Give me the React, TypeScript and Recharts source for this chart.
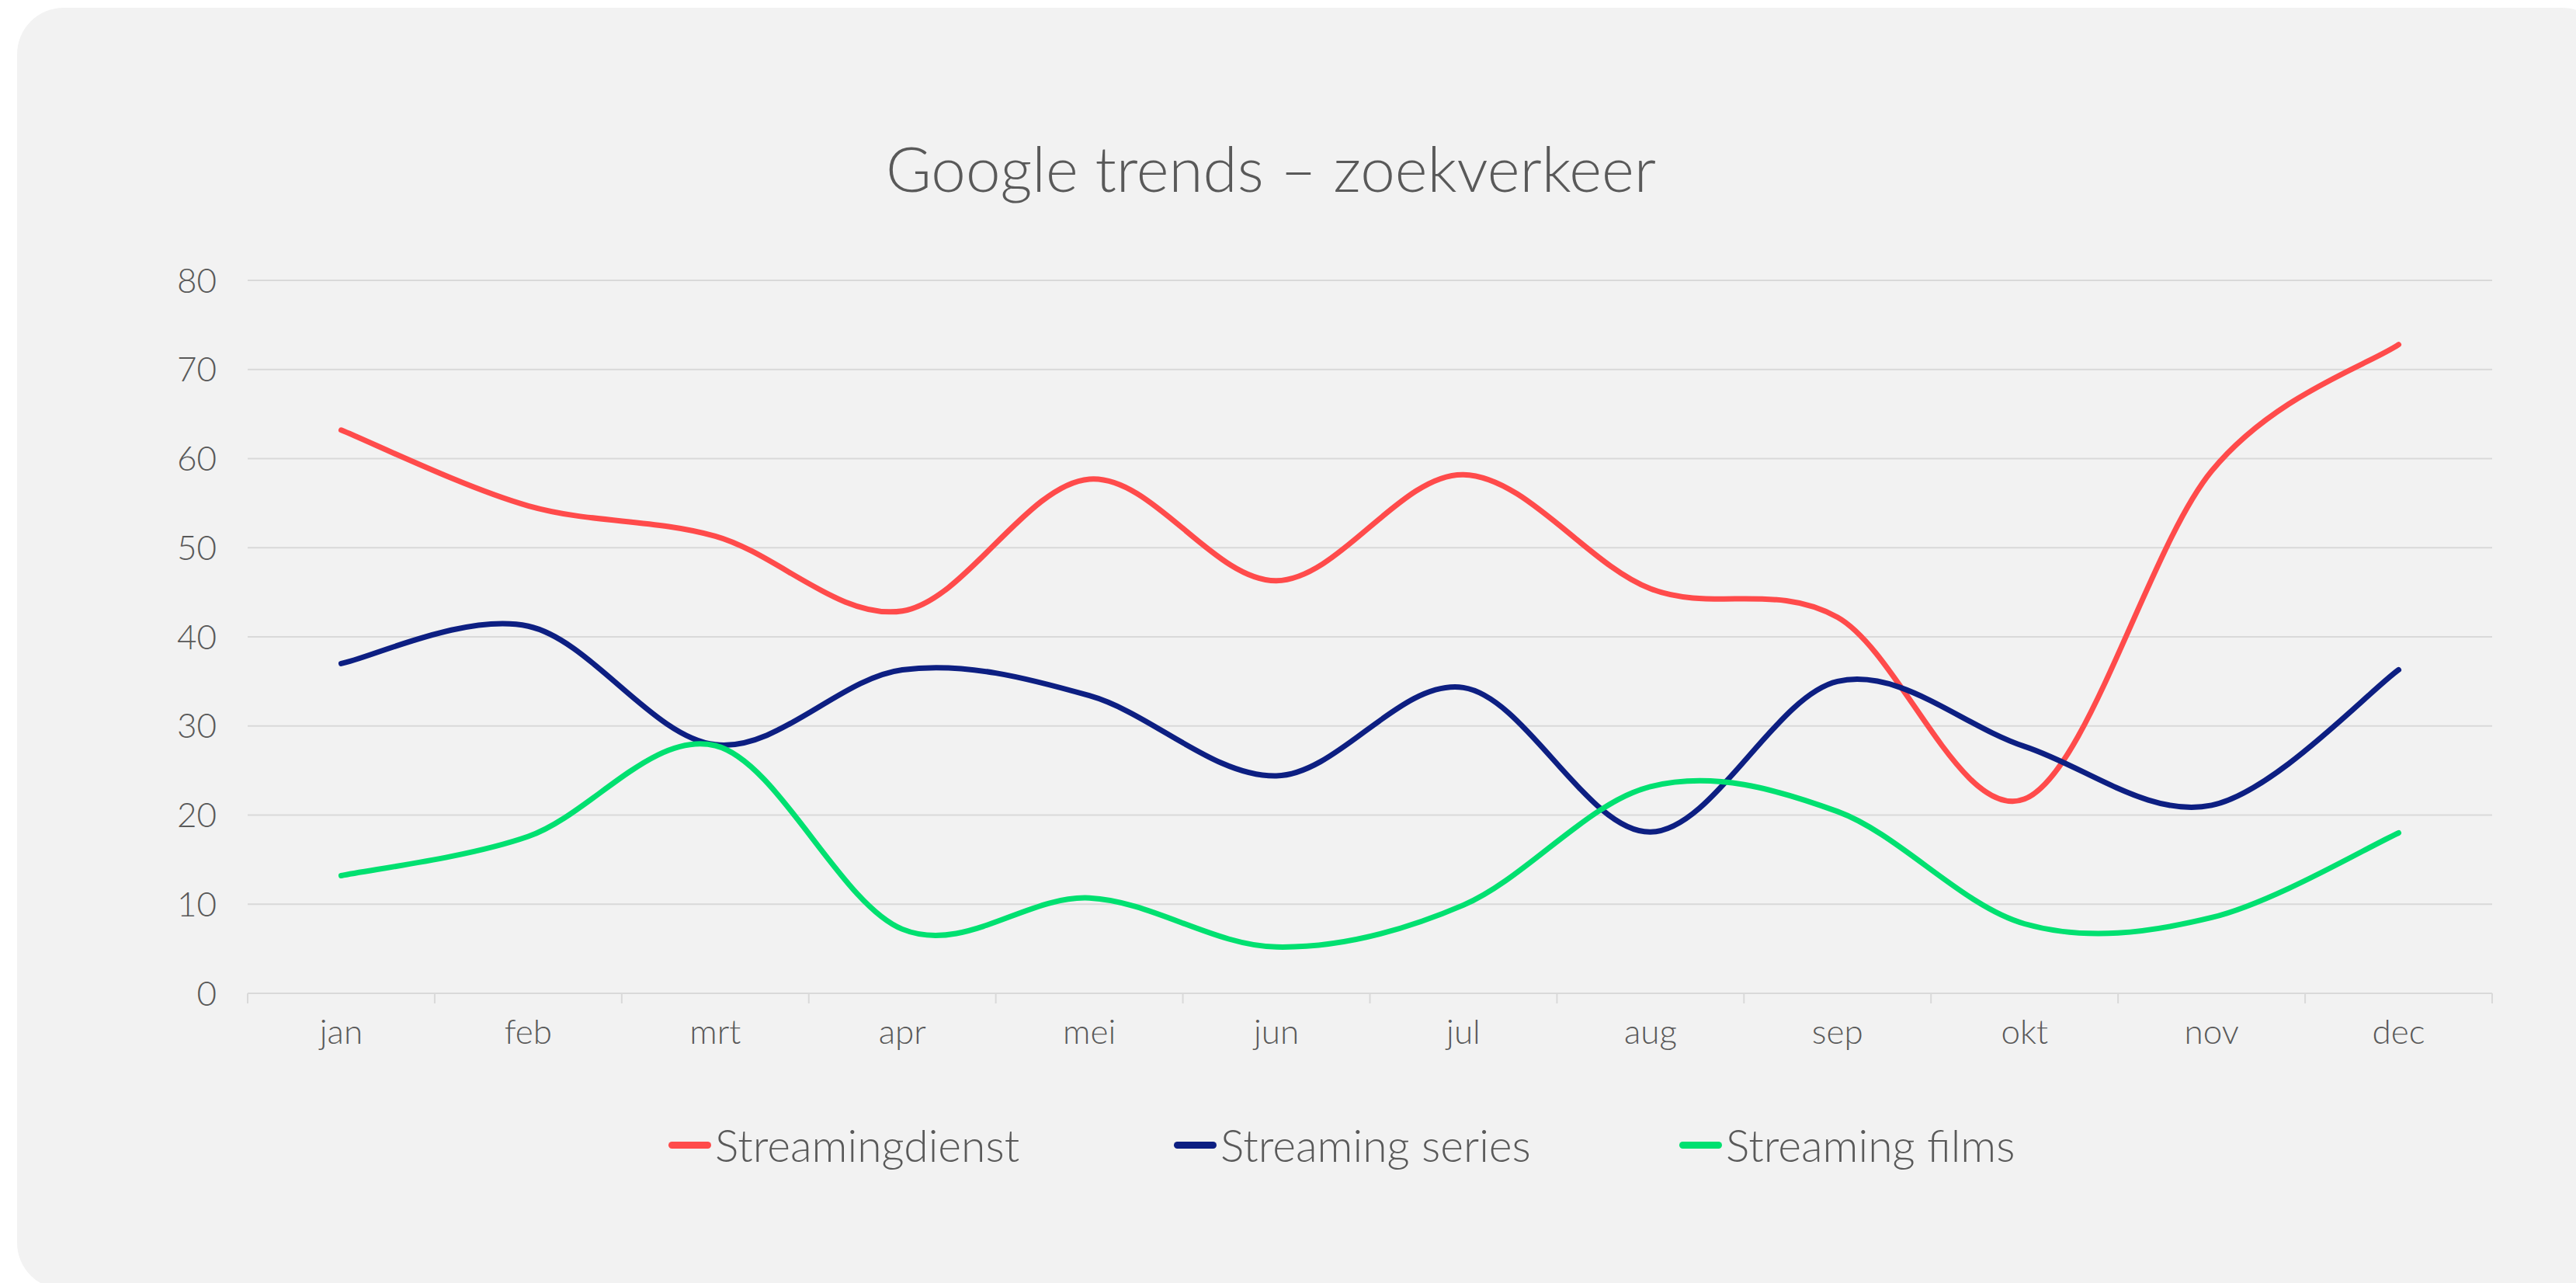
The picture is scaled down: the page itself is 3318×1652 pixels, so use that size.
import { LineChart, Line, XAxis, YAxis, CartesianGrid } from "recharts";

const months = ["jan", "feb", "mrt", "apr", "mei", "jun", "jul", "aug", "sep", "okt", "nov", "dec"];
const streamingdienst = [63.2, 54.7, 51.3, 42.9, 57.7, 46.3, 58.2, 45.4, 42.2, 21.8, 58.6, 72.8];
const streamingSeries = [37.0, 41.2, 27.9, 36.3, 33.4, 24.4, 34.3, 18.1, 35.0, 27.7, 21.1, 36.3];
const streamingFilms = [13.2, 17.6, 27.8, 7.2, 10.7, 5.2, 9.9, 23.2, 20.4, 7.8, 8.5, 18.0];
const yTicks = [0, 10, 20, 30, 40, 50, 60, 70, 80];

const series = [
  { key: "dienst", name: "Streamingdienst", color: "#ff4b4b", values: streamingdienst },
  { key: "series", name: "Streaming series", color: "#0d1f82", values: streamingSeries },
  { key: "films", name: "Streaming films", color: "#00e070", values: streamingFilms },
];

const data = months.map((month, i) => ({
  month,
  dienst: streamingdienst[i],
  series: streamingSeries[i],
  films: streamingFilms[i],
}));

const FONT = "Lato, 'Noto Sans', sans-serif";
const TEXT = "#595959";
const GRID = "#d9d9d9";
const LABEL_GAP = 34;
const TICK_LEN = 13;

// Excel-like smoothed line (uniform Catmull-Rom through the points)
function excelSmooth(context: any) {
  let pts: number[][] = [];
  return {
    areaStart() {},
    areaEnd() {},
    lineStart() {
      pts = [];
    },
    point(x: number, y: number) {
      pts.push([+x, +y]);
    },
    lineEnd() {
      if (!pts.length) return;
      context.moveTo(pts[0][0], pts[0][1]);
      for (let i = 0; i < pts.length - 1; i++) {
        const p0 = pts[i - 1] || pts[i];
        const p1 = pts[i];
        const p2 = pts[i + 1];
        const p3 = pts[i + 2] || p2;
        context.bezierCurveTo(
          p1[0] + (p2[0] - p0[0]) / 6,
          p1[1] + (p2[1] - p0[1]) / 6,
          p2[0] - (p3[0] - p1[0]) / 6,
          p2[1] - (p3[1] - p1[1]) / 6,
          p2[0],
          p2[1]
        );
      }
    },
  };
}

// month label + tick marks on the category boundaries (half a band to each side)
function MonthTick(props: any) {
  const { x, y, payload, index, visibleTicksCount } = props;
  const half = payload?.offset ?? 0;
  const axisY = y - LABEL_GAP;
  return (
    <g>
      <line x1={x - half} x2={x - half} y1={axisY} y2={axisY + TICK_LEN} stroke={GRID} strokeWidth={2} />
      {index === visibleTicksCount - 1 && (
        <line x1={x + half} x2={x + half} y1={axisY} y2={axisY + TICK_LEN} stroke={GRID} strokeWidth={2} />
      )}
      <text x={x} y={y} dy="0.71em" textAnchor="middle" fill={TEXT} fontSize={44} fontFamily={FONT} fontWeight={300}>
        {payload.value}
      </text>
    </g>
  );
}

export default function App() {
  return (
    <div
      style={{
        position: "absolute",
        left: 0,
        top: 0,
        width: 3318,
        height: 1652,
        background: "#ffffff",
        overflow: "hidden",
        fontFamily: FONT,
      }}
    >
      <div
        style={{
          position: "absolute",
          left: 22,
          top: 10,
          width: 3338,
          height: 1650,
          borderRadius: 60,
          background: "#f2f2f2",
        }}
      />
      <div
        style={{
          position: "absolute",
          left: 0,
          top: 176,
          width: 3274,
          textAlign: "center",
          fontSize: 80,
          lineHeight: "80px",
          fontWeight: 300,
          color: TEXT,
          whiteSpace: "nowrap",
        }}
      >
        Google trends – zoekverkeer
      </div>

      <div style={{ position: "absolute", left: 0, top: 0 }}>
        <LineChart width={3318} height={1652} data={data} margin={{ top: 361, right: 108, left: 199, bottom: 293 }}>
          <CartesianGrid vertical={false} stroke={GRID} strokeWidth={2} />
          <XAxis
            dataKey="month"
            scale="band"
            height={80}
            axisLine={{ stroke: GRID, strokeWidth: 2 }}
            tickLine={false}
            tickSize={0}
            tickMargin={LABEL_GAP}
            interval={0}
            tick={<MonthTick />}
          />
          <YAxis
            width={120}
            domain={[0, 80]}
            ticks={yTicks}
            axisLine={false}
            tickLine={false}
            tickSize={0}
            tickMargin={40}
            tick={{ fill: TEXT, fontSize: 44, fontFamily: FONT, fontWeight: 300 }}
          />
          {series.map((s) => (
            <Line
              key={s.key}
              dataKey={s.key}
              name={s.name}
              type={excelSmooth as any}
              stroke={s.color}
              strokeWidth={7}
              strokeLinecap="round"
              dot={false}
              activeDot={false}
              isAnimationActive={false}
            />
          ))}
        </LineChart>
      </div>

      {series.map((s, i) => (
        <div
          key={s.key}
          style={{
            position: "absolute",
            left: 861 + i * 651,
            top: 1446,
            height: 56,
            display: "flex",
            alignItems: "center",
            whiteSpace: "nowrap",
          }}
        >
          <div style={{ width: 55, height: 9, borderRadius: 5, background: s.color }} />
          <span style={{ marginLeft: 5, fontSize: 57, lineHeight: "56px", fontWeight: 300, color: TEXT }}>
            {s.name}
          </span>
        </div>
      ))}
    </div>
  );
}
